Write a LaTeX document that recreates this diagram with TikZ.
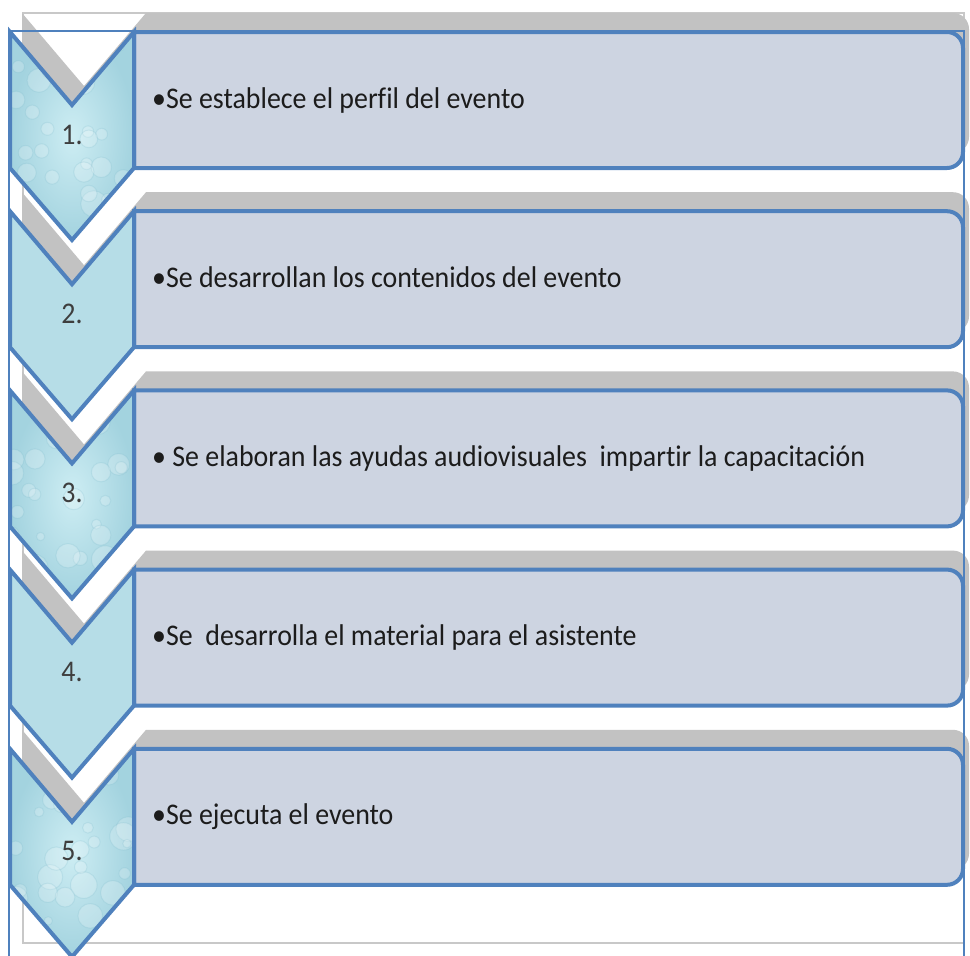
\documentclass[tikz,border=0pt]{standalone}
\usepackage{fontspec}
\setmainfont{Carlito}[Ligatures=NoCommon]
\definecolor{bluestroke}{HTML}{4F81BD}
\definecolor{boxfill}{HTML}{CDD4E1}
\definecolor{chevfill}{HTML}{B6DDE7}
\definecolor{waterA}{HTML}{A3D3DF}
\definecolor{waterB}{HTML}{CDEDF3}
\definecolor{waterdark}{HTML}{6FB3C6}
\definecolor{shadowgray}{HTML}{C2C2C2}
\definecolor{framegray}{HTML}{C8C8C8}
\definecolor{txtcol}{HTML}{1C1C1C}
\tikzset{
  chev/.style={insert path={(10,#1) -- (72,#1+73) -- (134,#1) -- (134,#1+136) -- (72,#1+208) -- (10,#1+136) -- cycle}},
  chevshadow/.style={insert path={(22,#1-19) -- (84,#1+54) -- (146,#1-19) -- (146,#1+117) -- (84,#1+189) -- (22,#1+117) -- cycle}},
  boxp/.style={insert path={(134,#1) -- (947,#1) arc[start angle=90,end angle=0,radius=16pt] -- (963,#1+120) arc[start angle=0,end angle=-90,radius=16pt] -- (134,#1+136) -- cycle}},
  boxshadow/.style={insert path={(146,#1-19) -- (953,#1-19) arc[start angle=90,end angle=0,radius=16pt] -- (969,#1+105) arc[start angle=0,end angle=-90,radius=16pt] -- (146,#1+121) -- cycle}},
  outline/.style={draw=bluestroke, line width=4pt, line join=miter},
  txt/.style={anchor=base west, inner sep=0pt, text=txtcol, font=\fontsize{30}{36}\selectfont},
  num/.style={anchor=base, inner sep=0pt, text=txtcol!85!white, font=\fontsize{30}{36}\selectfont},
}
\newcommand\sq[1]{\scalebox{0.93}[1]{#1}}
\begin{document}
\begin{tikzpicture}[x=1pt,y=-1pt]
\useasboundingbox (0,0) rectangle (970,956);
% outer gray frame
\draw[framegray, line width=2pt] (23,13) rectangle (963.5,943);
% shadows
\foreach \t in {32,211.2,390.4,569.6,748.8}{
  \fill[shadowgray, chevshadow=\t];
  \fill[shadowgray, boxshadow=\t];
}
% boxes
\foreach \t in {32,211.2,390.4,569.6,748.8}{
  \path[fill=boxfill, outline, boxp=\t];
}
% chevrons
\pgfmathsetseed{11}
\foreach \t/\w in {32/1,211.2/0,390.4/1,569.6/0,748.8/1}{
  \ifnum\w=1
    \begin{scope}
      \clip[chev=\t];
      \shade[inner color=waterB, outer color=waterA] (10,\t) rectangle (134,\t+208);
      \foreach \k in {1,...,30}{
        \pgfmathsetmacro\bx{10+124*rnd}
        \pgfmathsetmacro\by{\t+208*rnd}
        \pgfmathsetmacro\br{4+10*rnd}
        \fill[white, opacity=0.2] (\bx,\by) circle[radius=\br pt];
        \draw[waterdark, opacity=0.18, line width=1pt] (\bx,\by) circle[radius=\br pt];
      }
    \end{scope}
    \path[outline, chev=\t];
  \else
    \path[fill=chevfill, outline, chev=\t];
  \fi
}
% numbers
\node[num] (n1) at (72,144) {\sq{1.}};
\node[num] (n2) at (72,323.2) {\sq{2.}};
\node[num] (n3) at (72,502.4) {\sq{3.}};
\node[num] (n4) at (72,681.6) {\sq{4.}};
\node[num] (n5) at (72,860.8) {\sq{5.}};
% texts
\node[txt] (t1) at (152,108) {\sq{•Se establece el perfil del evento}};
\node[txt] (t2) at (152,287.2) {\sq{•Se desarrollan los contenidos del evento}};
\node[txt] (t3) at (152,466.4) {\sq{• Se elaboran las ayudas audiovisuales\ \ impartir la capacitación}};
\node[txt] (t4) at (152,645.6) {\sq{•Se\ \ desarrolla el material para el asistente}};
\node[txt] (t5) at (152,824.8) {\sq{•Se ejecuta el evento}};
% thin blue frame
\draw[bluestroke, line width=1.3pt] (9,960) -- (9,31) -- (964,31) -- (964,960);
\end{tikzpicture}
\end{document}
